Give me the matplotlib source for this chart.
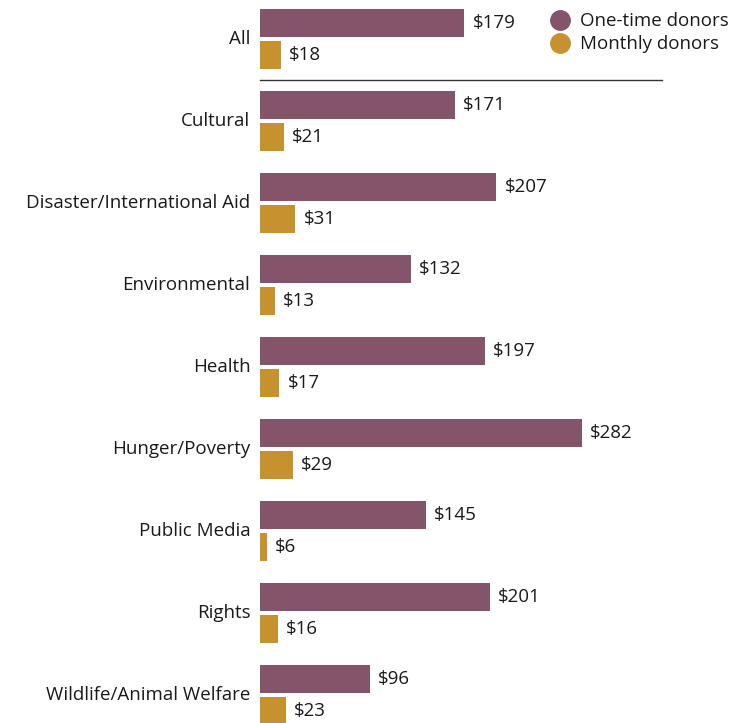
# Average gift by cause, one-time vs monthly donors
import matplotlib
matplotlib.use("Agg")
import matplotlib.pyplot as plt
from matplotlib.lines import Line2D

categories = ["All", "Cultural", "Disaster/International Aid", "Environmental",
              "Health", "Hunger/Poverty", "Public Media", "Rights",
              "Wildlife/Animal Welfare"]
one_time = [179, 171, 207, 132, 197, 282, 145, 201, 96]
monthly = [18, 21, 31, 13, 17, 29, 6, 16, 23]

purple = '#84546b'
gold = '#c69230'
txt = '#1a1a1a'

plt.rcParams['font.family'] = ['Open Sans', 'DejaVu Sans']
fs = 13.5

fig = plt.figure(figsize=(7.5, 7.23), dpi=100)
ax = fig.add_axes([260/750, 0, 490/750, 1])

ypos = list(range(len(categories)))
off = 0.195
h = 0.341
ax.barh([y - off for y in ypos], one_time, height=h, color=purple)
ax.barh([y + off for y in ypos], monthly, height=h, color=gold)

for y, v in zip(ypos, one_time):
    ax.text(v + 7, y - off, "$%d" % v, va='center', ha='left', fontsize=fs, color=txt)
for y, v in zip(ypos, monthly):
    ax.text(v + 7, y + off, "$%d" % v, va='center', ha='left', fontsize=fs, color=txt)
for y, c in zip(ypos, categories):
    ax.text(-8.5, y, c, va='center', ha='right', fontsize=fs, color=txt)

# separator under "All"
ax.plot([0, 352], [0.494, 0.494], color='#333333', lw=1, clip_on=False)

ax.set_xlim(0, 490/1.142)
ax.set_ylim((723 - 39)/82, -39/82)
ax.axis('off')

handles = [Line2D([], [], marker='o', ls='', markersize=14, color=purple),
           Line2D([], [], marker='o', ls='', markersize=14, color=gold)]
fig.legend(handles, ["One-time donors", "Monthly donors"], loc='upper left',
           bbox_to_anchor=(542/750, 1 - 5/723), frameon=False, fontsize=fs,
           handletextpad=0.55, labelspacing=0.25, borderaxespad=0, handlelength=1.1,
           labelcolor=txt)

fig.savefig("out.png", dpi=100)
